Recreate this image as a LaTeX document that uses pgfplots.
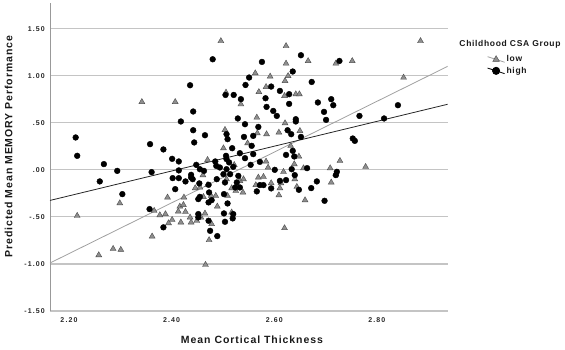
\documentclass[border=0pt]{standalone}
\usepackage{pgfplots}
\pgfplotsset{compat=1.18}
\usepackage{pgfplotstable}
\usepackage{fontspec}
\setmainfont{Liberation Sans}
\newfontfamily\lblfont[LetterSpace=9]{Liberation Sans}
\newfontfamily\tickfont[LetterSpace=16]{Liberation Sans}
\newfontfamily\legfont[LetterSpace=8]{Liberation Sans}
\definecolor{tri}{HTML}{8E8E8E}
\definecolor{gridc}{HTML}{C4C4C4}
\definecolor{lowline}{HTML}{A0A0A0}

\pgfplotstableread{
x y
2.342 0.722
2.407 0.722
2.299 -0.354
2.216 -0.488
2.258 -0.906
2.286 -0.839
2.301 -0.849
2.362 -0.707
2.366 -0.435
2.377 -0.481
2.388 -0.470
2.394 -0.566
2.401 -0.531
2.418 -0.558
2.413 -0.442
2.416 -0.389
2.423 -0.372
2.427 -0.446
2.436 -0.505
2.438 -0.558
2.449 -0.541
2.392 -0.293
2.424 -0.293
2.446 -0.194
2.496 1.369
2.623 1.316
2.666 1.157
2.623 1.130
2.720 1.130
2.752 1.157
2.563 1.027
2.592 0.992
2.627 0.998
2.621 0.945
2.584 0.881
2.620 0.786
2.642 0.804
2.649 0.804
2.570 0.828
2.506 0.822
2.535 0.697
2.566 0.556
2.621 0.496
2.609 0.397
2.650 0.414
2.585 0.379
2.567 0.390
2.504 0.425
2.548 0.283
2.501 0.230
2.632 0.255
2.648 0.142
2.728 0.096
2.778 0.032
2.709 0.018
2.584 0.089
2.588 0.025
2.618 -0.021
2.639 0.061
2.657 0.018
2.470 0.106
2.522 0.053
2.885 1.369
2.852 0.981
2.569 -0.081
2.579 -0.074
2.640 -0.099
2.711 -0.134
2.720 -0.046
2.613 -0.141
2.594 -0.141
2.564 -0.162
2.611 -0.194
2.644 -0.180
2.609 -0.269
2.660 -0.322
2.620 -0.619
2.466 -1.009
2.473 -0.746
2.478 -0.576
2.517 -0.452
2.465 -0.463
2.457 -0.505
2.489 -0.389
2.477 -0.276
2.486 -0.276
2.462 -0.287
2.470 -0.162
2.509 -0.276
2.525 -0.223
2.539 -0.240
2.517 -0.194
2.533 -0.117
2.540 -0.099
2.507 -0.099
2.455 -0.187
2.461 -0.056
}\lowdata

\pgfplotstableread{
x y
2.436 0.899
2.442 0.620
2.418 0.514
2.442 0.421
2.444 0.291
2.213 0.344
2.216 0.149
2.268 0.061
2.294 -0.011
2.358 0.273
2.384 0.217
2.401 0.117
2.414 0.089
2.361 -0.024
2.414 -0.006
2.448 0.053
2.260 -0.123
2.304 -0.258
2.357 -0.417
2.384 -0.611
2.452 -0.470
2.452 -0.505
2.402 -0.088
2.414 -0.088
2.407 -0.205
2.427 -0.123
2.438 -0.081
2.452 -0.311
2.454 -0.144
2.480 1.175
2.652 1.218
2.576 1.147
2.727 1.157
2.636 1.045
2.551 0.981
2.673 0.934
2.544 0.902
2.594 0.885
2.611 0.839
2.629 0.804
2.505 0.796
2.521 0.796
2.583 0.761
2.535 0.751
2.629 0.701
2.585 0.669
2.598 0.626
2.605 0.573
2.685 0.716
2.711 0.751
2.715 0.687
2.697 0.616
2.701 0.531
2.642 0.538
2.642 0.514
2.529 0.546
2.543 0.485
2.569 0.456
2.626 0.421
2.633 0.379
2.559 0.361
2.541 0.350
2.652 0.350
2.465 0.368
2.507 0.379
2.509 0.326
2.556 0.255
2.518 0.230
2.559 0.167
2.533 0.177
2.543 0.124
2.506 0.149
2.636 0.202
2.623 0.159
2.639 0.142
2.753 0.333
2.757 0.308
2.766 0.573
2.814 0.546
2.841 0.687
2.722 -0.021
2.572 0.085
2.554 0.053
2.634 0.007
2.664 0.018
2.601 0.000
2.485 0.089
2.487 0.042
2.494 0.025
2.463 -0.011
2.512 0.079
2.520 0.032
2.611 -0.117
2.623 -0.109
2.640 -0.056
2.683 -0.123
2.720 -0.056
2.594 -0.197
2.572 -0.162
2.579 -0.162
2.566 -0.229
2.648 -0.212
2.672 -0.194
2.698 -0.329
2.475 -0.648
2.489 -0.704
2.472 -0.541
2.504 -0.552
2.520 -0.470
2.519 -0.516
2.502 -0.463
2.509 -0.357
2.472 -0.346
2.478 -0.322
2.455 -0.287
2.473 -0.240
2.502 -0.258
2.524 -0.187
2.533 -0.187
2.527 -0.134
2.504 -0.134
2.514 -0.046
2.530 -0.064
2.488 -0.099
2.455 0.007
2.438 -0.053
2.441 -0.099
2.507 0.114
2.507 0.007
2.501 -0.046
2.472 -0.159
}\highdata

\begin{document}
\begin{tikzpicture}
\path (0,0) rectangle (565pt,349pt);
\begin{axis}[
  at={(50pt,38pt)}, anchor=south west,
  scale only axis, width=397.7pt, height=308pt,
  xmin=2.163, xmax=2.938, ymin=-1.5, ymax=1.773,
  axis lines=left,
  axis line style={-},
  x axis line style={-, draw=gridc, line width=1.2pt},
  y axis line style={-, draw=black!40, line width=0.8pt},
  xtick={2.2,2.4,2.6,2.8}, xticklabels={2.20,2.40,2.60,2.80},
  ytick={-1.5,-1,-0.5,0,0.5,1,1.5},
  yticklabels={-1.50,-1.00,-.50,.00,.50,1.00,1.50},
  major tick length=0pt,
  ymajorgrids, grid style={draw=gridc, line width=1.2pt},
  ticklabel style={font=\tickfont\bfseries\fontsize{7}{8}\selectfont, text=black!85, inner sep=0pt},
  yticklabel style={xshift=-5pt},
  xticklabel style={yshift=-6pt},
  legend image code/.code={\draw[mark repeat=2,mark phase=2,#1] plot coordinates {(0pt,2.8pt) (8.5pt,0pt) (17pt,-2.8pt)};},
  legend style={at={(1.0988,0.8328)}, anchor=north west, draw=none, fill=none, inner sep=0pt, row sep=1.9pt,
    font=\legfont\bfseries\fontsize{8.5}{10}\selectfont, text=black!90,
    nodes={inner sep=0.6pt, text height=6.5pt, text depth=1.8pt},
    /tikz/every odd column/.append style={column sep=1pt}},
  legend cell align=left,
]
\addplot[only marks, mark=triangle*, mark size=3.4pt, mark options={fill=tri, draw=black!70, line width=0.4pt}, forget plot] table[x=x,y=y]{\lowdata};
\addplot[only marks, mark=*, mark size=2.9pt, mark options={fill=black, draw=black}, forget plot] table[x=x,y=y]{\highdata};
\addplot[lowline, line width=0.8pt, forget plot] coordinates {(2.163,-0.99) (2.938,1.10)};
\addplot[black!85, line width=0.8pt, forget plot] coordinates {(2.163,-0.325) (2.938,0.697)};
\addlegendimage{lowline, line width=0.8pt, mark=triangle*, mark options={fill=tri, draw=black!70, line width=0.4pt, mark size=3.8pt}}
\addlegendentry{low}
\addlegendimage{black, line width=0.8pt, mark=*, mark options={fill=black, mark size=3.6pt}}
\addlegendentry{high}
\end{axis}
\node[font=\legfont\bfseries\fontsize{8.5}{10}\selectfont, text=black!90] at (510pt,305pt) {Childhood CSA Group};
\node[rotate=90, font=\lblfont\bfseries\fontsize{10.5}{12}\selectfont, text=black!90] at (8.7pt,202.5pt) {Predicted Mean MEMORY Performance};
\node[font=\lblfont\bfseries\fontsize{10.5}{12}\selectfont, text=black!90] at (252pt,9.3pt) {Mean Cortical Thickness};
\end{tikzpicture}
\end{document}
